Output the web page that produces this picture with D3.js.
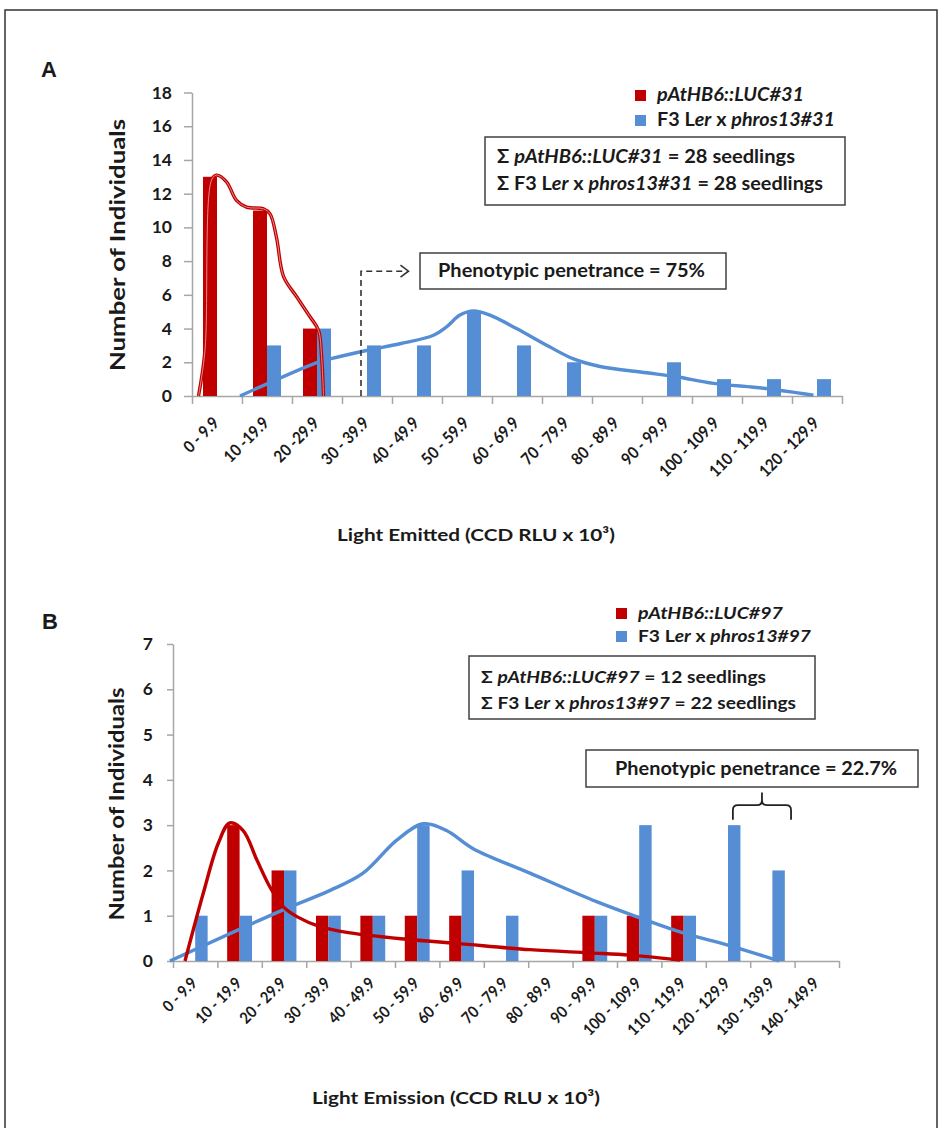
<!DOCTYPE html>
<html>
<head>
<meta charset="utf-8">
<script src="https://cdn.jsdelivr.net/npm/d3@7"></script>
<style>
  body { margin: 0; background: #fff; }
  svg text { font-family: Lato, Carlito, Calibri, sans-serif; font-weight: bold; fill: #1a1a1a; white-space: pre; }
</style>
</head>
<body>
<svg id="fig" width="944" height="1128"></svg>
<script>
// ---------- Panel A: line #31 ----------
const catsA = ["0 - 9.9", "10 -19.9", "20 -29.9", "30 - 39.9", "40 - 49.9", "50 - 59.9", "60 - 69.9",
               "70 - 79.9", "80 - 89.9", "90 - 99.9", "100 - 109.9", "110 - 119.9", "120 - 129.9"];
const redA  = [13, 11, 4, 0, 0, 0, 0, 0, 0, 0, 0, 0, 0];
const blueA = [0, 3, 4, 3, 3, 5, 3, 2, 0, 2, 1, 1, 1];
const yTicksA = [0, 2, 4, 6, 8, 10, 12, 14, 16, 18];
// smoothed distribution curves: [position in bins, count]
const redCurveA = [[0.13, 0], [0.26, 2.7], [0.39, 12.8], [0.49, 13.1], [0.69, 12.7], [0.89, 11.6],
                   [1.09, 11.2], [1.43, 11.1], [1.56, 10.8], [1.69, 9.4], [1.83, 7.1], [2.09, 5.9],
                   [2.36, 4.7], [2.53, 3.9], [2.59, 2.4], [2.63, 0]];
const blueCurveA = [[0.96, 0], [2.51, 2.0], [2.76, 2.2], [3.49, 2.7], [4.16, 3.1], [4.83, 3.6],
                    [5.09, 4.1], [5.36, 4.8], [5.63, 5.05], [5.96, 4.8], [6.49, 4.0], [7.16, 2.9],
                    [7.63, 2.2], [8.16, 1.75], [9.09, 1.38], [9.69, 1.14], [10.43, 0.75],
                    [11.43, 0.46], [12.43, 0.05]];
const penetranceFromA = 3;   // first bin counted as mutant phenotype

// ---------- Panel B: line #97 ----------
const catsB = ["0 - 9.9", "10 - 19.9", "20 - 29.9", "30 - 39.9", "40 - 49.9", "50 - 59.9", "60 - 69.9",
               "70 - 79.9", "80 - 89.9", "90 - 99.9", "100 - 109.9", "110 - 119.9", "120 - 129.9",
               "130 - 139.9", "140 - 149.9"];
const redB  = [0, 3, 2, 1, 1, 1, 1, 0, 0, 1, 1, 1, 0, 0, 0];
const blueB = [1, 1, 2, 1, 1, 3, 2, 1, 0, 1, 3, 1, 3, 2, 0];
const yTicksB = [0, 1, 2, 3, 4, 5, 6, 7];
const redCurveB = [[0.27, 0], [0.68, 1.49], [1.02, 2.6], [1.28, 3.05], [1.58, 2.88], [1.89, 2.23],
                   [2.18, 1.64], [2.48, 1.2], [2.79, 0.98], [3.31, 0.76], [3.99, 0.62], [5.26, 0.48],
                   [6.39, 0.39], [8.04, 0.25], [9.39, 0.18], [10.29, 0.13], [11.42, 0.02]];
const blueCurveB = [[-0.07, 0], [2.48, 1.13], [3.54, 1.56], [4.28, 1.94], [5.04, 2.67], [5.64, 3.03],
                    [6.16, 2.88], [6.76, 2.48], [8.04, 1.94], [9.54, 1.31], [10.52, 0.95],
                    [11.49, 0.62], [12.61, 0.32], [13.65, 0]];
const penetranceFromB = 12;

const RED = "#C00000", BLUE = "#558ED5", AXIS = "#A6A6A6", INK = "#1a1a1a";
const pct = d3.format(".3~r");

const svg = d3.select("#fig");

// figure frame
svg.append("rect").attr("x", 5).attr("y", 10).attr("width", 932).attr("height", 1140)
   .attr("fill", "none").attr("stroke", "#333").attr("stroke-width", 1.5);

// text made of plain and italic runs, set to a given length
function rich(g, x, y, parts, size, width) {
  const t = g.append("text").attr("x", x).attr("y", y).attr("font-size", size);
  parts.forEach(([s, it]) => t.append("tspan").attr("font-style", it ? "italic" : "normal").text(s));
  if (width) t.attr("textLength", width).attr("lengthAdjust", "spacingAndGlyphs");
  return t;
}

function panel(o) {
  const g = svg.append("g");
  const x = d3.scaleBand().domain(o.cats).range([o.x0, o.x1]);
  const xu = d3.scaleLinear().domain([0, o.cats.length]).range([o.x0, o.x1]);
  const y = d3.scaleLinear().domain([0, o.yMax]).range([o.y0, o.y1]);
  const bw = x.bandwidth() * 0.28;

  // panel letter
  g.append("text").attr("x", o.letterX).attr("y", o.letterY).attr("font-size", 22)
   .style("font-family", "Arial, 'Liberation Sans', sans-serif").text(o.letter);

  // y axis
  const gy = g.append("g").attr("transform", `translate(${o.x0},0)`)
    .call(d3.axisLeft(y).tickValues(o.yTicks).tickSize(o.yTick).tickSizeOuter(0)
          .tickPadding(o.yPad).tickFormat(d3.format("d")));
  gy.select(".domain").attr("stroke", AXIS).attr("stroke-width", 1.5);
  gy.selectAll(".tick line").attr("stroke", AXIS).attr("stroke-width", 1.5);
  gy.selectAll(".tick text").attr("font-size", 17.5).attr("fill", INK)
    .style("font-family", "Lato, sans-serif").style("font-weight", "bold");

  // x axis: ticks on bin boundaries
  const gx = g.append("g").attr("transform", `translate(0,${o.y0})`)
    .call(d3.axisBottom(xu).tickValues(d3.range(0, o.cats.length + 1)).tickSize(o.xTick)
          .tickSizeOuter(0).tickFormat(""));
  gx.select(".domain").attr("stroke", AXIS).attr("stroke-width", 1.5);
  gx.selectAll(".tick line").attr("stroke", AXIS).attr("stroke-width", 1.5);

  // bin labels
  g.selectAll("text.xl").data(o.cats).join("text").attr("class", "xl")
    .attr("transform", d => `translate(${x(d) + x.bandwidth() / 2 + o.lx},${o.y0 + o.ly}) rotate(-45) scale(0.9,1)`)
    .attr("text-anchor", "end").attr("font-size", o.xFont).text(d => d);

  // axis titles
  g.append("g").attr("transform", `translate(${o.ytX},${o.ytY}) rotate(-90)`)
    .call(s => rich(s, -o.ytLen / 2, 0, [["Number of Individuals", false]], 21, o.ytLen));
  rich(g, o.xtX - o.xtLen / 2, o.xtY, [[o.xTitle, false]], 17.5, o.xtLen);

  // bars
  g.selectAll("rect.red").data(o.red.map((v, i) => [o.cats[i], v]).filter(d => d[1] > 0))
    .join("rect").attr("class", "red")
    .attr("x", d => x(d[0]) + x.bandwidth() / 2 - bw).attr("width", bw)
    .attr("y", d => y(d[1])).attr("height", d => y(0) - y(d[1])).attr("fill", RED);
  g.selectAll("rect.blue").data(o.blue.map((v, i) => [o.cats[i], v]).filter(d => d[1] > 0))
    .join("rect").attr("class", "blue")
    .attr("x", d => x(d[0]) + x.bandwidth() / 2).attr("width", bw)
    .attr("y", d => y(d[1])).attr("height", d => y(0) - y(d[1])).attr("fill", BLUE);

  // smoothed curves
  const line = d3.line().x(d => xu(d[0])).y(d => y(d[1])).curve(d3.curveCatmullRom.alpha(0.5));
  g.append("path").attr("d", line(o.blueCurve)).attr("fill", "none").attr("stroke", BLUE)
   .attr("stroke-width", 3.4).attr("stroke-linejoin", "round");
  g.append("path").attr("d", line(o.redCurve)).attr("fill", "none").attr("stroke", RED)
   .attr("stroke-width", 3.4).attr("stroke-linejoin", "round");
  if (o.hollowRed) {
    // light core gives the outlined look of this curve
    g.append("path").attr("d", line(o.redCurve)).attr("fill", "none").attr("stroke", "#e79a9a")
     .attr("stroke-width", 0.9).attr("stroke-linejoin", "round");
  }

  // legend
  const lg = g.append("g");
  lg.append("rect").attr("x", o.legX).attr("y", o.legY1 - 11).attr("width", 11).attr("height", 11).attr("fill", RED);
  lg.append("rect").attr("x", o.legX).attr("y", o.legY2 - 11).attr("width", 11).attr("height", 11).attr("fill", BLUE);
  rich(lg, o.legX + 22, o.legY1, [[o.lineName, true]], o.txt, o.legW1);
  rich(lg, o.legX + 22, o.legY2, [["F3 L", false], ["er", true], [" x ", false], [o.crossName, true]], o.txt, o.legW2);

  // totals box
  const sb = g.append("g");
  sb.append("rect").attr("x", o.sb[0]).attr("y", o.sb[1]).attr("width", o.sb[2]).attr("height", o.sb[3])
    .attr("fill", "#fff").attr("stroke", "#404040").attr("stroke-width", 1.5);
  rich(sb, o.sb[0] + 12, o.sbY1,
       [["Σ ", false], [o.lineName, true], [` = ${d3.sum(o.red)} seedlings`, false]], o.txt, o.sbW1);
  rich(sb, o.sb[0] + 12, o.sbY2,
       [["Σ F3 L", false], ["er", true], [" x ", false], [o.crossName, true],
        [` = ${d3.sum(o.blue)} seedlings`, false]], o.txt, o.sbW2);

  // penetrance box
  const share = 100 * d3.sum(o.blue.slice(o.penFrom)) / d3.sum(o.blue);
  const pb = g.append("g");
  pb.append("rect").attr("x", o.pb[0]).attr("y", o.pb[1]).attr("width", o.pb[2]).attr("height", o.pb[3])
    .attr("fill", "#fff").attr("stroke", "#404040").attr("stroke-width", 1.5);
  rich(pb, o.pbX, o.pbY, [[`Phenotypic penetrance = ${pct(share)}%`, false]], o.pbSize, o.pbW);

  return { g, x, xu, y };
}

// ---------- draw A ----------
const A = panel({
  letter: "A", letterX: 41, letterY: 77,
  cats: catsA, red: redA, blue: blueA, redCurve: redCurveA, blueCurve: blueCurveA, hollowRed: true,
  yTicks: yTicksA, yMax: 18, x0: 192, x1: 842, y0: 396, y1: 92.5,
  yTick: 8, yPad: 12, xTick: 8, lx: 3, ly: 28, xFont: 16.5,
  ytX: 125, ytY: 245, ytLen: 252,
  xTitle: "Light Emitted (CCD RLU x 10³)", xtX: 476, xtY: 541, xtLen: 278,
  lineName: "pAtHB6::LUC#31", crossName: "phros13#31", txt: 18,
  legX: 635, legY1: 101, legY2: 126, legW1: 147, legW2: 178,
  sb: [485, 137, 360, 68], sbY1: 163, sbY2: 190, sbW1: 298, sbW2: 326,
  penFrom: penetranceFromA,
  pb: [420, 253, 306, 36], pbX: 438, pbY: 277, pbW: 267, pbSize: 18.5
});

// dashed pointer from the 30 bin boundary to the penetrance box
{
  const ax = A.xu(3.38), ay0 = A.y(0), ay1 = A.y(7.4), ax2 = A.xu(4.33);
  A.g.append("path").attr("d", `M${ax},${ay0}V${ay1}H${ax2 - 2}`)
    .attr("fill", "none").attr("stroke", "#333").attr("stroke-width", 1.6).attr("stroke-dasharray", "6,4");
  A.g.append("path").attr("d", `M${ax2 - 8},${ay1 - 6}L${ax2},${ay1}L${ax2 - 8},${ay1 + 6}`)
    .attr("fill", "none").attr("stroke", "#333").attr("stroke-width", 1.6);
}

// ---------- draw B ----------
const B = panel({
  letter: "B", letterX: 42, letterY: 629,
  cats: catsB, red: redB, blue: blueB, redCurve: redCurveB, blueCurve: blueCurveB, hollowRed: false,
  yTicks: yTicksB, yMax: 7, x0: 173, x1: 839, y0: 961, y1: 644,
  yTick: 6, yPad: 14, xTick: 7, lx: 3, ly: 23, xFont: 16,
  ytX: 124, ytY: 804, ytLen: 233,
  xTitle: "Light Emission (CCD RLU x 10³)", xtX: 456, xtY: 1104, xtLen: 288,
  lineName: "pAtHB6::LUC#97", crossName: "phros13#97", txt: 17.5,
  legX: 616, legY1: 619, legY2: 642, legW1: 145, legW2: 173,
  sb: [469, 656, 346, 63], sbY1: 683, sbY2: 709, sbW1: 285, sbW2: 315,
  penFrom: penetranceFromB,
  pb: [586, 750, 332, 37], pbX: 615, pbY: 775, pbW: 282, pbSize: 18.5
});

// brace over the two highest bins
{
  const l = B.xu(12.61), r = B.xu(13.92), m = (l + r) / 2;
  const top = B.y(3.44), foot = B.y(3.12), nub = B.y(3.72);
  B.g.append("path")
    .attr("d", `M${l},${foot}V${top + 5}Q${l},${top} ${l + 5},${top}H${m - 5}Q${m},${top} ${m},${top - 5}V${nub}` +
               `M${m},${top - 5}Q${m},${top} ${m + 5},${top}H${r - 5}Q${r},${top} ${r},${top + 5}V${foot}`)
    .attr("fill", "none").attr("stroke", "#222").attr("stroke-width", 1.8);
}
</script>
</body>
</html>
